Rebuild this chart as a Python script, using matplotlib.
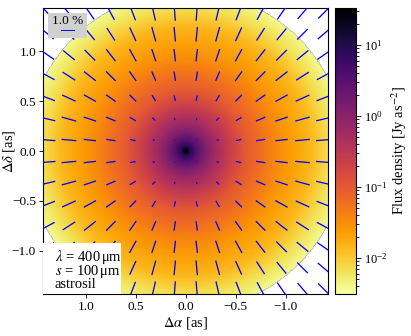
import numpy as np
import matplotlib
matplotlib.use("Agg")
import matplotlib.pyplot as plt
from matplotlib.colors import LogNorm
from matplotlib.patches import Rectangle

plt.rcParams['font.family'] = 'serif'
plt.rcParams['font.serif'] = ['Liberation Serif', 'DejaVu Serif']
plt.rcParams['mathtext.fontset'] = 'stix'
plt.rcParams['font.size'] = 9.5

# radial flux profile (radius in as, flux in Jy/as^2)
prof_r = [0.0, 0.02, 0.05, 0.1, 0.2, 0.3, 0.45, 0.6, 0.75, 0.95, 1.05, 1.25, 1.42, 1.55, 1.6]
prof_flux = [40.0, 20.0, 8.0, 3.5, 1.2, 0.55, 0.22, 0.1, 0.06, 0.03, 0.023, 0.014, 0.007, 0.0045, 0.0038]
r_edge = 1.6

# polarisation vectors: grid positions and degree (%) vs radius
vec_pos = [-1.38, -1.17, -0.96, -0.75, -0.53, -0.32, -0.11,
           0.11, 0.32, 0.53, 0.75, 0.96, 1.17, 1.38]
pol_r = [0.0, 0.15, 0.33, 0.55, 0.75, 1.0, 1.2, 1.4, 2.1]
pol_deg = [0.0, 0.05, 0.15, 0.4, 0.65, 0.9, 1.05, 1.05, 1.05]

info_lines = ["$\\lambda$ = 400$\\,$μm",
              "$s$ = 100$\\,$μm",
              "astrosil"]

vmin, vmax = 0.0031, 33.0
lim = 1.43

fig = plt.figure(figsize=(4.11, 3.36), dpi=100)
ax = fig.add_axes([0.1046, 0.125, 0.6946, 0.851])
cax = fig.add_axes([0.815, 0.125, 0.051, 0.851])

g = np.linspace(-1.65, 1.65, 400)
X, Y = np.meshgrid(g, g)
R = np.hypot(X, Y)
Z = 10 ** np.interp(R, prof_r, np.log10(prof_flux))
Z = np.ma.masked_where(R > r_edge, Z)

im = ax.imshow(Z, origin='lower', extent=[-1.65, 1.65, -1.65, 1.65],
               cmap='inferno_r', norm=LogNorm(vmin=vmin, vmax=vmax),
               interpolation='bilinear')

VX, VY = np.meshgrid(vec_pos, vec_pos)
VR = np.hypot(VX, VY)
P = np.interp(VR, pol_r, pol_deg)
U = P * VX / VR
V = P * VY / VR
Q = ax.quiver(VX, VY, U, V, color='blue', angles='xy', scale_units='xy',
              scale=1 / 0.143, pivot='middle', headwidth=0, headlength=0,
              headaxislength=0, width=0.0045, zorder=3)

ax.add_patch(Rectangle((0.017, 0.895), 0.137, 0.088, transform=ax.transAxes,
                       facecolor='#d0d0d0', edgecolor='none', zorder=4))
qk = ax.quiverkey(Q, 0.087, 0.923, 1.0, r"1.0 %", labelpos='N', labelsep=0.035,
                  coordinates='axes', fontproperties={'size': 9.5})
qk.set_zorder(5)

ax.add_patch(Rectangle((0, 0), 0.273, 0.178, transform=ax.transAxes,
                       facecolor='white', edgecolor='none', zorder=4))
ax.text(0.042, 0.161, "\n".join(info_lines), transform=ax.transAxes,
        va='top', ha='left', zorder=5, fontsize=10.5, linespacing=0.8)

ax.set_xlim(lim, -lim)
ax.set_ylim(-lim, lim)
ax.set_xticks([1.0, 0.5, 0.0, -0.5, -1.0])
ax.set_yticks([-1.0, -0.5, 0.0, 0.5, 1.0])
ax.tick_params(direction='out', length=3, width=0.6, pad=2)
ax.set_xlabel(r"$\Delta\alpha$ [as]", fontsize=10.5, labelpad=2)
ax.set_ylabel(r"$\Delta\delta$ [as]", fontsize=10.5)
ax.yaxis.set_label_coords(-0.092, 0.5)

cb = fig.colorbar(im, cax=cax)
cb.set_label(r"Flux density [Jy as$^{-2}$]", fontsize=10.5, labelpad=2)
cb.ax.tick_params(which='both', width=0.6, pad=2, labelsize=9)

fig.savefig("out.png", dpi=100)
